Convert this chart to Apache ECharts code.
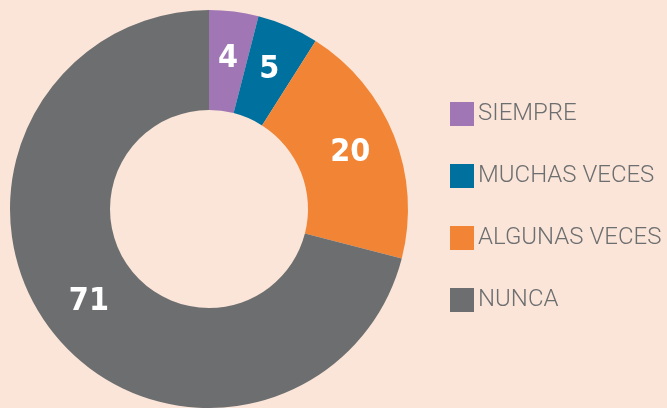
<!DOCTYPE html>
<html>
<head>
<meta charset="utf-8">
<script src="https://cdn.jsdelivr.net/npm/echarts@6/dist/echarts.min.js"></script>
<style>
html,body{margin:0;padding:0;background:#FAE5D8;}
#chart{width:667px;height:408px;}
</style>
</head>
<body>
<div id="chart"></div>
<script>
var categories = ['SIEMPRE', 'MUCHAS VECES', 'ALGUNAS VECES', 'NUNCA'];
var values = [4, 5, 20, 71];
var colors = ['#A076B4', '#00709F', '#F28535', '#6D6E70'];

var chart = echarts.init(document.getElementById('chart'));
var pieData = categories.map(function (c, i) {
    return {name: c, value: values[i], itemStyle: {color: colors[i]}};
});

chart.setOption({
    backgroundColor: '#FAE5D8',
    animation: false,
    legend: {
        orient: 'vertical',
        left: 450,
        top: 102,
        itemWidth: 24,
        itemHeight: 24,
        itemGap: 38,
        icon: 'rect',
        padding: 0,
        textStyle: {
            color: '#6D6E70',
            fontSize: 24,
            fontFamily: 'Roboto',
            fontWeight: 300,
            lineHeight: 24,
            padding: [0, 0, 0, -1]
        },
        data: categories
    },
    series: [{
        type: 'pie',
        center: [209, 209],
        radius: [99, 199],
        startAngle: 90,
        clockwise: true,
        data: pieData,
        label: {
            show: true,
            position: 'inside',
            formatter: '{c}',
            color: '#ffffff',
            fontSize: 32,
            fontWeight: 'bold',
            fontFamily: 'DejaVu Sans Condensed'
        },
        labelLine: {show: false},
        emphasis: {disabled: true}
    }]
});
</script>
</body>
</html>
